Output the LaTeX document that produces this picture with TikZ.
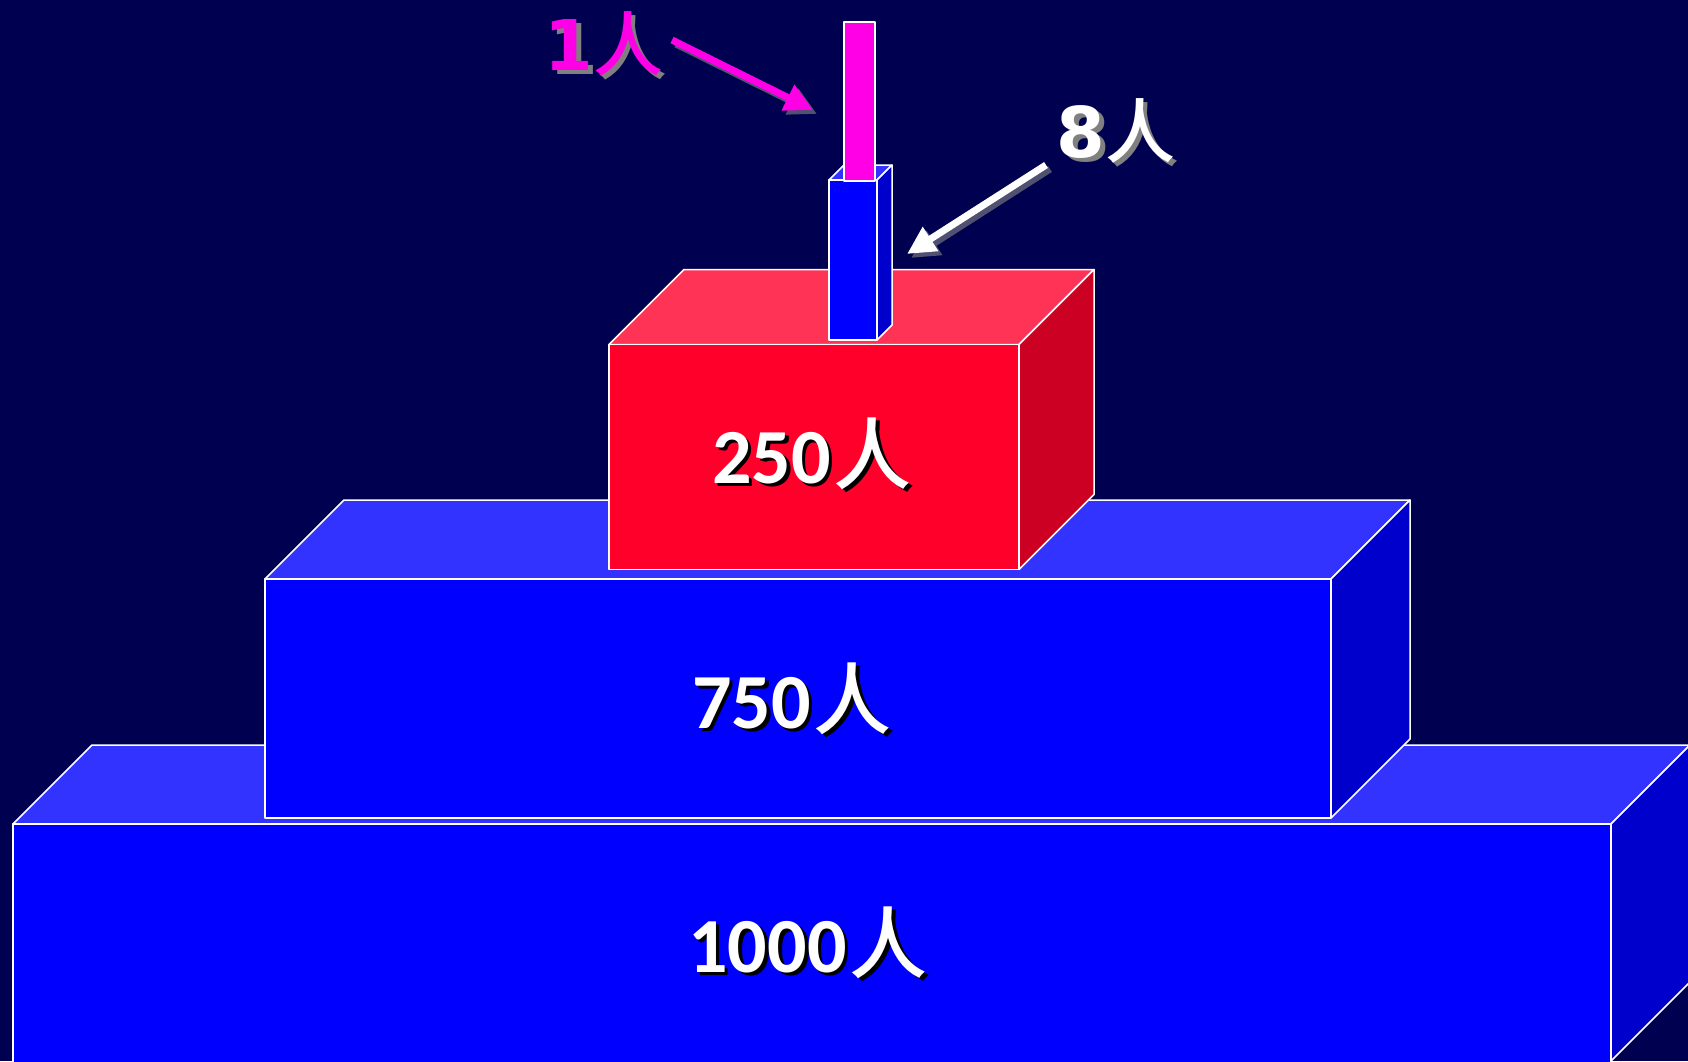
\documentclass[tikz,border=0pt]{standalone}
\usepackage{fontspec}
\setmainfont{Carlito}
\newfontfamily\cjkfam{Noto Sans CJK SC}[UprightFont=* Medium]
\newfontfamily\dvsfam{DejaVu Sans}
\usetikzlibrary{arrows.meta}
\definecolor{bg}{RGB}{0,0,80}
\definecolor{bfront}{RGB}{0,0,255}
\definecolor{btop}{RGB}{51,51,255}
\definecolor{bside}{RGB}{0,0,204}
\definecolor{rfront}{RGB}{255,0,43}
\definecolor{rtop}{RGB}{255,51,85}
\definecolor{rside}{RGB}{204,0,34}
\definecolor{mag}{RGB}{255,0,230}
\definecolor{ashadow}{RGB}{80,80,112}
\definecolor{tshadow}{RGB}{128,128,128}
\newcommand\shadowtext[3]{\rlap{\kern#2\raisebox{-#2}{\color{#1}#3}}#3}
\newcommand\biglbl[1]{\fontsize{78}{90}\selectfont\shadowtext{black}{3.5pt}{{\bfseries #1}\kern3pt{\cjkfam 人}}}
\newcommand\smalllbl[1]{\fontsize{70}{84}\selectfont\shadowtext{tshadow}{4.5pt}{{\dvsfam\bfseries #1}{\cjkfam 人}}}
\begin{document}
\begin{tikzpicture}[x=1pt,y=-1pt,
  edge/.style={draw=white,line width=1.5pt,line join=round},
  arr/.style={line width=7pt,-{Triangle[length=28pt,width=27pt]}},
  lbl/.style={anchor=base,inner sep=0pt}]
\fill[bg] (0,0) rectangle (1688,1061);
\useasboundingbox (0,0) rectangle (1688,1061);
% bottom box
\filldraw[btop,edge] (13,824) -- (92,745) -- (1690,745) -- (1611,824) -- cycle;
\filldraw[bside,edge] (1611,824) -- (1690,745) -- (1690,982) -- (1611,1061) -- cycle;
\filldraw[bfront,edge] (13,824) rectangle (1611,1075);
% middle box
\filldraw[btop,edge] (265,579) -- (344,500) -- (1410,500) -- (1331,579) -- cycle;
\filldraw[bside,edge] (1331,579) -- (1410,500) -- (1410,739) -- (1331,818) -- cycle;
\filldraw[bfront,edge] (265,579) rectangle (1331,818);
% red box
\filldraw[rtop,edge] (609,344.5) -- (684,269.5) -- (1094,269.5) -- (1019,344.5) -- cycle;
\filldraw[rside,edge] (1019,344.5) -- (1094,269.5) -- (1094,494.5) -- (1019,569.5) -- cycle;
\filldraw[rfront,edge] (609,344.5) rectangle (1019,569.5);
% blue column
\filldraw[btop,edge] (829,180) -- (844,165) -- (892,165) -- (877,180) -- cycle;
\filldraw[bside,edge] (877,180) -- (892,165) -- (892,325) -- (877,340) -- cycle;
\filldraw[bfront,edge] (829,180) rectangle (877,340);
% magenta column
\filldraw[mag,edge] (844,22) rectangle (875,181);
% arrows
\coordinate (m1) at (672,40);
\coordinate (m2) at (813,110);
\coordinate (w1) at (1046,165);
\coordinate (w2) at (907,254);
\draw[arr,ashadow] ([shift={(4,4)}]m1) -- ([shift={(4,4)}]m2);
\draw[arr,mag] (m1) -- (m2);
\draw[arr,ashadow] ([shift={(4,4)}]w1) -- ([shift={(4,4)}]w2);
\draw[arr,white] (w1) -- (w2);
% labels
\node[lbl,text=white] (l1000) at (808,972) {\biglbl{1000}};
\node[lbl,text=white] (l750) at (792,728) {\biglbl{750}};
\node[lbl,text=white] (l250) at (812,483) {\biglbl{250}};
\node[lbl,text=mag] (l1) at (604,70) {\smalllbl{1}};
\node[lbl,text=white] (l8) at (1116,157) {\smalllbl{8}};
\end{tikzpicture}
\end{document}
